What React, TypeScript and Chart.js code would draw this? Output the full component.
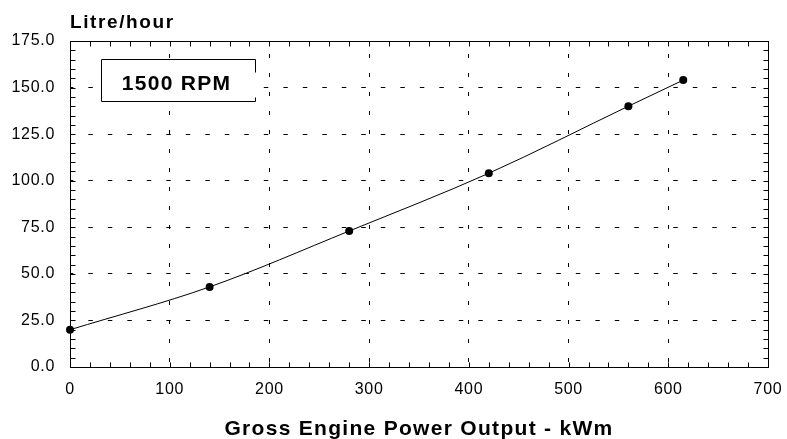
import React, { useEffect, useRef } from "react";
import { Chart, registerables } from "chart.js";

Chart.register(...registerables);

// ---- data ----
const powerKWm = [0, 140, 280, 420, 560, 615];
const fuelLph = [20, 43, 73, 104, 140, 154];
const xTickValues = [0, 100, 200, 300, 400, 500, 600, 700];
const yTickValues = [0, 25, 50, 75, 100, 125, 150, 175];
const xMinorStep = 20;
const yMinorStep = 5;
const yAxisTitle = "Litre/hour";
const xAxisTitle = "Gross Engine Power Output - kWm";
const rpmLabel = "1500 RPM";

const FONT = "'Liberation Sans', Arial, Helvetica, sans-serif";

const decorPlugin = {
  id: "decor",
  beforeDraw(chart: any) {
    (chart.ctx as any).letterSpacing = "0.7px";
  },
  beforeDatasetsDraw(chart: any) {
    const { ctx, chartArea: a, scales } = chart;
    const x = scales.x;
    const y = scales.y;
    const L = Math.round(a.left) + 0.5;
    const R = Math.round(a.right) + 0.5;
    const T = Math.round(a.top) + 0.5;
    const B = Math.round(a.bottom) + 0.5;
    ctx.save();
    ctx.strokeStyle = "#000";
    ctx.lineWidth = 1;
    ctx.setLineDash([]);
    ctx.beginPath();
    for (let v = x.min; v <= x.max + 1e-6; v += xMinorStep) {
      const px = Math.round(x.getPixelForValue(v)) + 0.5;
      ctx.moveTo(px, B);
      ctx.lineTo(px, B - 5);
      ctx.moveTo(px, T);
      ctx.lineTo(px, T + 5);
    }
    for (let v = y.min; v <= y.max + 1e-6; v += yMinorStep) {
      const py = Math.round(y.getPixelForValue(v)) + 0.5;
      ctx.moveTo(L, py);
      ctx.lineTo(L + 5, py);
      ctx.moveTo(R, py);
      ctx.lineTo(R - 5, py);
    }
    ctx.stroke();
    ctx.strokeRect(L, T, R - L, B - T);

    // RPM label box
    const bx = Math.round(a.left + 31) + 0.5;
    const by = Math.round(a.top + 18) + 0.5;
    const bw = 154;
    const bh = 42;
    ctx.fillStyle = "#fff";
    ctx.fillRect(bx, by, bw, bh);
    ctx.beginPath();
    ctx.moveTo(bx + bw, by + 13);
    ctx.lineTo(bx + bw, by);
    ctx.lineTo(bx, by);
    ctx.lineTo(bx, by + bh);
    ctx.lineTo(bx + bw, by + bh);
    ctx.lineTo(bx + bw, by + bh - 4);
    ctx.stroke();
    ctx.fillStyle = "#000";
    (ctx as any).letterSpacing = "1.3px";
    ctx.font = `bold 21px ${FONT}`;
    ctx.textAlign = "center";
    ctx.textBaseline = "alphabetic";
    ctx.fillText(rpmLabel, bx + bw / 2 - 2, by + 30);
    ctx.restore();
  },
  afterDraw(chart: any) {
    const { ctx, chartArea: a } = chart;
    ctx.save();
    ctx.fillStyle = "#000";
    ctx.textBaseline = "alphabetic";
    (ctx as any).letterSpacing = "1.6px";
    ctx.font = `bold 19px ${FONT}`;
    ctx.textAlign = "left";
    ctx.fillText(yAxisTitle, a.left, 28);
    (ctx as any).letterSpacing = "1.3px";
    ctx.font = `bold 21px ${FONT}`;
    ctx.textAlign = "center";
    ctx.fillText(xAxisTitle, (a.left + a.right) / 2, 435);
    ctx.restore();
  },
};

export default function App() {
  const ref = useRef<HTMLCanvasElement | null>(null);
  useEffect(() => {
    if (!ref.current) return;
    const chart = new Chart(ref.current, {
      type: "line",
      data: {
        datasets: [
          {
            data: powerKWm.map((p, i) => ({ x: p, y: fuelLph[i] })),
            borderColor: "#000",
            borderWidth: 1,
            backgroundColor: "#000",
            pointRadius: 4,
            pointBorderWidth: 0,
            pointBackgroundColor: "#000",
            cubicInterpolationMode: "monotone",
            fill: false,
            clip: false,
          },
        ],
      },
      options: {
        animation: false,
        responsive: false,
        devicePixelRatio: 1,
        layout: { padding: { top: 41, right: 19, left: 0, bottom: 0 } },
        plugins: {
          legend: { display: false },
          tooltip: { enabled: false },
          title: { display: false },
        },
        scales: {
          x: {
            type: "linear",
            min: 0,
            max: 700,
            afterBuildTicks: (s: any) => {
              s.ticks = xTickValues.map((v) => ({ value: v }));
            },
            afterFit: (s: any) => {
              s.height = 72;
              s.paddingLeft = 0;
              s.paddingRight = 0;
            },
            grid: { color: "#000", lineWidth: 1, drawTicks: false },
            border: { display: false, dash: [4, 15], dashOffset: 6 },
            ticks: {
              color: "#000",
              font: { family: FONT, size: 16 },
              padding: 13,
              maxRotation: 0,
              autoSkip: false,
              callback: (v: any) => String(v),
            },
          },
          y: {
            type: "linear",
            min: 0,
            max: 175,
            afterBuildTicks: (s: any) => {
              s.ticks = yTickValues.map((v) => ({ value: v }));
            },
            afterFit: (s: any) => {
              s.width = 70;
              s.paddingTop = 0;
              s.paddingBottom = 0;
            },
            grid: { color: "#000", lineWidth: 1, drawTicks: false },
            border: { display: false, dash: [4.5, 15], dashOffset: 1.2 },
            ticks: {
              color: "#000",
              font: { family: FONT, size: 16 },
              padding: 15,
              autoSkip: false,
              callback: (v: any) => Number(v).toFixed(1),
            },
          },
        },
      } as any,
      plugins: [decorPlugin],
    });
    return () => chart.destroy();
  }, []);
  return (
    <div style={{ position: "fixed", left: 0, top: 0, width: 787, height: 439, background: "#fff" }}>
      <canvas ref={ref} width={787} height={439} style={{ display: "block", width: 787, height: 439 }} />
    </div>
  );
}
